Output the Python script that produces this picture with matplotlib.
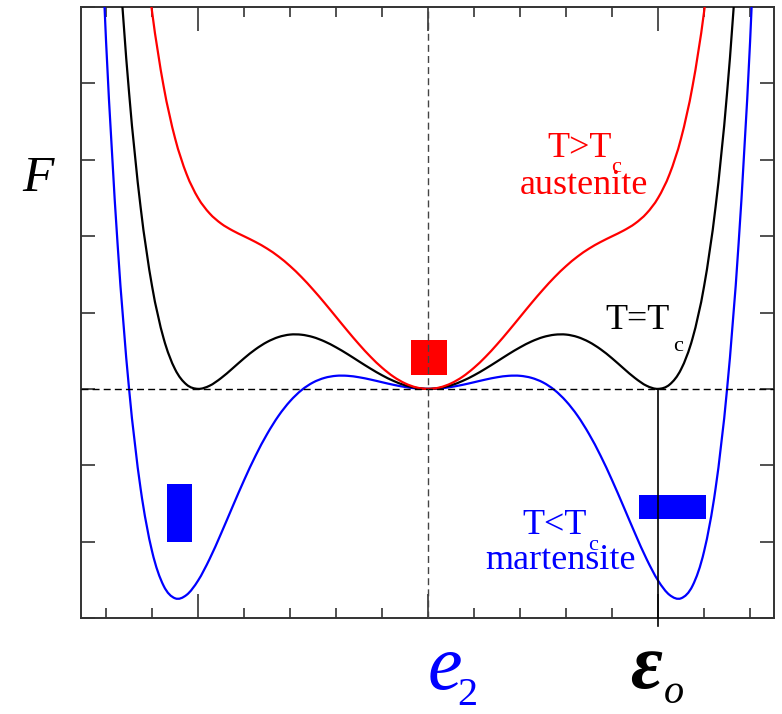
import numpy as np
import matplotlib
matplotlib.use("Agg")
import matplotlib.pyplot as plt
from matplotlib.patches import Rectangle, PathPatch
from matplotlib.path import Path

# strain grid (one half; the free energy is even in e2)
strain = [0.00, 0.05, 0.10, 0.15, 0.20, 0.25, 0.30, 0.35, 0.40, 0.45,
          0.50, 0.55, 0.60, 0.65, 0.70, 0.75, 0.80, 0.85, 0.90, 0.95,
          1.00, 1.05, 1.10, 1.15, 1.20, 1.25, 1.30, 1.35, 1.40, 1.45]

# free energy F
F_above = [0.000, 0.018, 0.072, 0.159, 0.277, 0.420, 0.583, 0.759, 0.942, 1.125,
           1.300, 1.463, 1.608, 1.733, 1.837, 1.923, 1.998, 2.073, 2.165, 2.298,
           2.500, 2.812, 3.281, 3.966, 4.938, 6.279, 8.086]
F_crit = [0.000, 0.012, 0.047, 0.104, 0.178, 0.265, 0.359, 0.455, 0.544, 0.621,
          0.678, 0.709, 0.711, 0.679, 0.614, 0.519, 0.400, 0.268, 0.141, 0.041,
          0.000, 0.056, 0.257, 0.663, 1.344, 2.383, 3.878, 5.943, 8.710]
F_below = [0.000, 0.006, 0.025, 0.053, 0.087, 0.122, 0.152, 0.171, 0.171, 0.144,
           0.084, -0.016, -0.161, -0.352, -0.592, -0.875, -1.196, -1.542, -1.894, -2.228,
           -2.510, -2.698, -2.742, -2.577, -2.127, -1.303, 0.000, 1.899, 4.545, 8.091]

eps0 = 1.0


def full(vals):
    s = np.array(strain[:len(vals)])
    v = np.array(vals)
    return np.concatenate([-s[:0:-1], s]), np.concatenate([v[:0:-1], v])


def smooth_path(x, y):
    # Catmull-Rom through the points, written as cubic Bezier segments
    p = np.column_stack([x, y])
    q = np.vstack([p[0], p, p[-1]])
    verts = [p[0]]
    codes = [Path.MOVETO]
    for i in range(1, len(q) - 2):
        c1 = q[i] + (q[i + 1] - q[i - 1]) / 6
        c2 = q[i + 1] - (q[i + 2] - q[i]) / 6
        verts += [c1, c2, q[i + 1]]
        codes += [Path.CURVE4] * 3
    return Path(verts, codes)


plt.rcParams['font.family'] = 'Liberation Serif'

fig = plt.figure(figsize=(7.82, 7.14), dpi=100)
ax = fig.add_axes([81/782, 1 - 618/714, (774 - 81)/782, (618 - 7)/714])

# reference lines
ax.axhline(0, color='black', lw=1.0, ls=(0, (5, 3)), zorder=4)
ax.axvline(0, color='#444444', lw=1.0, ls=(0, (5, 3)), zorder=4)

# free energy curves
for vals, col in [(F_below, '#0000ff'), (F_crit, 'black'), (F_above, '#ff0000')]:
    x, y = full(vals)
    ax.add_patch(PathPatch(smooth_path(x, y), fill=False, edgecolor=col,
                           lw=1.6, zorder=3, capstyle='round', joinstyle='round'))

# lattice cell sketches
ax.add_patch(Rectangle((-0.074, 0.182), 0.157, 0.456, color='#ff0000', lw=0, zorder=2))
ax.add_patch(Rectangle((-1.135, -2.005), 0.109, 0.755, color='#0000ff', lw=0, zorder=2))
ax.add_patch(Rectangle((0.917, -1.706), 0.292, 0.313, color='#0000ff', lw=0, zorder=2))

# strain of the martensite well
ax.plot([eps0, eps0], [0, -3.10], color='black', lw=1.2, clip_on=False, zorder=5)

ax.set_xlim(-1.509, 1.504)
ax.set_ylim(-3.0, 4.96)

ax.set_xticks([-1, 0, 1])
ax.set_xticks(np.arange(-1.4, 1.41, 0.2), minor=True)
ax.set_yticks(np.arange(-3, 6, 1))
ax.tick_params(axis='x', which='major', direction='in', length=17, width=1.2,
               top=True, bottom=True, labelbottom=False, color='#333333')
ax.tick_params(axis='x', which='minor', direction='in', length=7, width=1.2,
               top=True, bottom=True, color='#333333')
ax.tick_params(axis='y', which='major', direction='in', length=10, width=1.2,
               left=True, right=True, labelleft=False, color='#333333')
for sp in ax.spines.values():
    sp.set_color('#333333')
    sp.set_linewidth(1.4)

# curve labels
ax.text(0.517, 3.03, 'T>T', color='#ff0000', fontsize=26, va='baseline')
ax.text(0.796, 2.84, 'c', color='#ff0000', fontsize=16, va='baseline')
ax.text(0.40, 2.55, 'austenite', color='#ff0000', fontsize=26, va='baseline')

ax.text(0.770, 0.78, 'T=T', color='black', fontsize=26, va='baseline')
ax.text(1.065, 0.495, 'c', color='black', fontsize=16, va='baseline')

ax.text(0.409, -1.90, 'T<T', color='#0000ff', fontsize=26, va='baseline')
ax.text(0.696, -2.11, 'c', color='#0000ff', fontsize=16, va='baseline')
ax.text(0.248, -2.36, 'martensite', color='#0000ff', fontsize=26, va='baseline')

# axis symbols
fig.text(22/782, 1 - 191/714, 'F', fontsize=37, style='italic', va='baseline')
fig.text(428/782, 1 - 689/714, 'e', fontsize=56, style='italic', color='#0000ff', va='baseline')
fig.text(457/782, 1 - 705/714, '2', fontsize=29, color='#0000ff', va='baseline')
fig.text(630/782, 1 - 688/714, 'ε', fontsize=56, style='italic', weight='bold', va='baseline')
fig.text(664/782, 1 - 703/714, 'o', fontsize=29, style='italic', va='baseline')

fig.savefig('out.png', dpi=100)
